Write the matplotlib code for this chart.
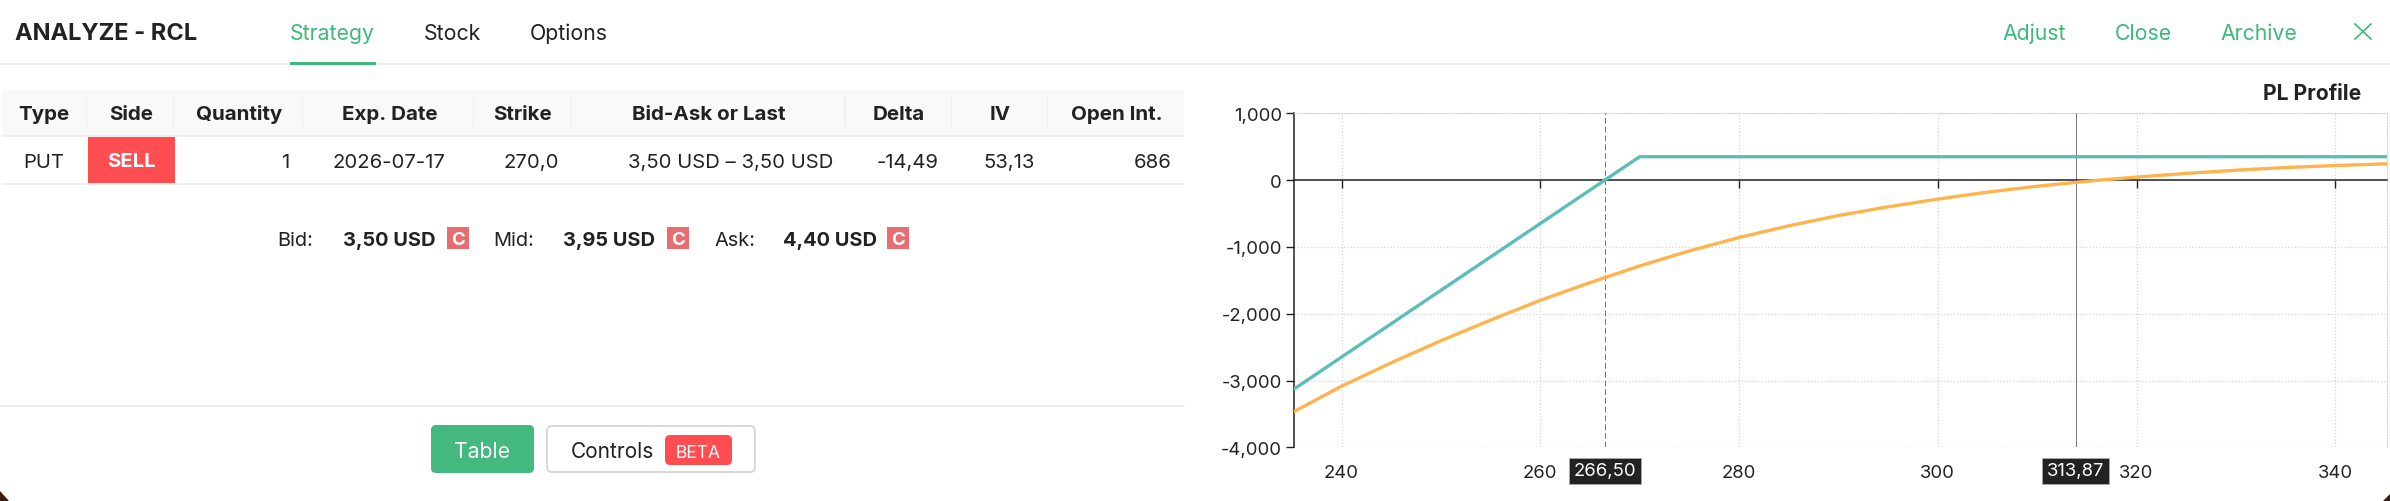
import matplotlib
matplotlib.use("Agg")
import matplotlib.pyplot as plt
from matplotlib.patches import Rectangle, FancyBboxPatch, Polygon

plt.rcParams['font.family'] = ['Inter', 'DejaVu Sans']

W, H = 2390, 502
GREEN = '#3fb87b'
RED = '#ff4d52'
DARK = '#222222'
LINE = '#eeeeee'

# chart data
teal_x = [235.2, 270, 345.2]
teal_y = [-3130, 350, 350]
orange_x = [235.2, 240, 245, 250, 255, 260, 265, 270, 275, 280, 285, 290, 295, 300,
            305, 310, 313.87, 316.3, 320, 325, 330, 335, 340, 345.2]
orange_y = [-3468, -3085, -2735, -2405, -2095, -1800, -1535, -1285, -1060, -860, -685, -530, -400, -284,
            -180, -92, -35, 0, 45, 100, 148, 188, 218, 244]
x_ticks = [240, 260, 280, 300, 320, 340]
y_ticks = [1000, 0, -1000, -2000, -3000, -4000]
y_labels = ['1,000', '0', '-1,000', '-2,000', '-3,000', '-4,000']
breakeven = 266.50
current_price = 313.87

# table data
headers = ['Type', 'Side', 'Quantity', 'Exp. Date', 'Strike', 'Bid-Ask or Last', 'Delta', 'IV', 'Open Int.']
header_x = [44, 131, 239, 389.5, 523, 708.5, 899, 1000, 1116.5]
sep_x = [86.6, 174, 303, 473.7, 571.8, 845.5, 952, 1047.6]
row = ['PUT', '1', '2026-07-17', '270,0', '3,50 USD – 3,50 USD', '-14,49', '53,13', '686']
row_x = [44, 290.5, 389, 559, 731, 939, 1035, 1172]
row_ha = ['center', 'right', 'center', 'right', 'center', 'right', 'right', 'right']
quotes = [('Bid:', '3,50 USD'), ('Mid:', '3,95 USD'), ('Ask:', '4,40 USD')]
quote_label_x = [277.5, 493.5, 714]
quote_value_x = [343, 562.7, 783]
quote_badge_x = [447, 667, 887]

fig = plt.figure(figsize=(W / 100, H / 100), dpi=100, facecolor='white')

# everything that is not the chart goes on a pixel sized axes
ui = fig.add_axes([0, 0, 1, 1])
ui.set_xlim(0, W)
ui.set_ylim(H, 0)
ui.axis('off')


def label(x, y, s, size=15.3, color=DARK, ha='left', weight='normal'):
    ui.text(x, y, s, fontsize=size, color=color, ha=ha, va='baseline', fontweight=weight)


def rounded(x0, y0, x1, y1, face, edge='none', r=5, lw=0):
    ui.add_patch(FancyBboxPatch((x0 + r, y0 + r), x1 - x0 - 2 * r, y1 - y0 - 2 * r,
                                boxstyle='round,pad=%d,rounding_size=%d' % (r, r),
                                fc=face, ec=edge, lw=lw))


# top bar
label(15, 40, 'ANALYZE - RCL', size=17, weight='bold')
label(290, 40, 'Strategy', color=GREEN)
label(424, 40, 'Stock')
label(529.5, 40, 'Options')
label(2002.5, 40, 'Adjust', color=GREEN)
label(2114.5, 40, 'Close', color=GREEN)
label(2220.5, 40, 'Archive', color=GREEN)
ui.plot([2355, 2371], [25, 40], color=GREEN, lw=1.2)
ui.plot([2355, 2371], [40, 25], color=GREEN, lw=1.2)
ui.add_patch(Rectangle((0, 64), W, 2, fc=LINE, ec='none'))
ui.add_patch(Rectangle((290, 63), 86, 3, fc=GREEN, ec='none'))

# table
ui.add_patch(Rectangle((2, 90), 1182.5, 46, fc='#f9f9f9', ec='none'))
ui.add_patch(Rectangle((2, 136), 1182.5, 2, fc=LINE, ec='none'))
ui.add_patch(Rectangle((2, 184), 1182.5, 2, fc=LINE, ec='none'))
for x in sep_x:
    ui.add_patch(Rectangle((x - 1, 97), 1.5, 31, fc=LINE, ec='none'))
for x, h in zip(header_x, headers):
    label(x, 120, h, ha='center', weight='bold', size=14.8)
for x, s, ha in zip(row_x, row, row_ha):
    label(x, 168, s, ha=ha, size=14.6)
ui.add_patch(Rectangle((88, 138), 87, 46, fc=RED, ec='none'))
label(131, 167.5, 'SELL', color='white', ha='center', weight='bold', size=14.6)

# bid / mid / ask line
for (name, value), lx, vx, bx in zip(quotes, quote_label_x, quote_value_x, quote_badge_x):
    label(lx, 246, name, size=14.4)
    label(vx, 246, value, size=14.4, weight='bold')
    ui.add_patch(Rectangle((bx, 228), 22.5, 22, fc='#e76d73', ec='none'))
    label(bx + 11.2, 245.5, 'C', color='white', ha='center', weight='bold', size=13.5)

# buttons under the table
ui.add_patch(Rectangle((0, 406), 1185, 1.5, fc=LINE, ec='none'))
rounded(431, 426, 534, 474, '#43b97f')
label(482.5, 458, 'Table', color='white', ha='center')
rounded(547, 427, 755, 473, 'white', edge='#d9d9d9', lw=1.5)
label(570.5, 458, 'Controls', size=15)
rounded(665, 436, 732, 466, RED)
label(698.5, 458, 'BETA', color='white', ha='center', size=12.5)

# window corners showing through
ui.add_patch(Polygon([(0, 492), (9, 502), (0, 502)], fc='#3b1d12', ec='none'))
ui.add_patch(Polygon([(2390, 495), (2383, 502), (2390, 502)], fc='#3b1d12', ec='none'))

label(2361, 100, 'PL Profile', ha='right', weight='bold', size=15.2)

# PL chart
x0, x1, y0, y1 = 1293.8, 2387, 114.3, 448.3
ax = fig.add_axes([x0 / W, 1 - y1 / H, (x1 - x0) / W, (y1 - y0) / H])
ax.patch.set_alpha(0)
ax.set_xlim(235.2, 345.2)
ax.set_ylim(-4000, 1000)

ax.set_xticks(x_ticks)
ax.set_yticks(y_ticks)
ax.set_yticklabels(y_labels)
ax.grid(True, color='#d4d4d4', linestyle=':', linewidth=0.9)
ax.set_axisbelow(True)
for name in ['top', 'right']:
    ax.spines[name].set_visible(True)
    ax.spines[name].set_color('#d4d4d4')
    ax.spines[name].set_linestyle(':')
ax.spines['left'].set_color(DARK)
ax.spines['left'].set_linewidth(1.1)
ax.spines['bottom'].set_position(('data', 0))
ax.spines['bottom'].set_color(DARK)
ax.spines['bottom'].set_linewidth(1.1)
ax.axhline(-4000, color='#d4d4d4', linestyle=':', linewidth=0.9, zorder=1)
ax.tick_params(axis='y', direction='out', length=5.5, width=1, color=DARK,
               labelsize=13.3, labelcolor=DARK, pad=3)
ax.tick_params(axis='x', direction='out', length=5.5, width=1, color=DARK,
               labelsize=13.3, labelcolor=DARK, pad=199)

ax.axvline(breakeven, color='#777777', linestyle=(0, (6, 3)), linewidth=0.7, zorder=2)
ax.axvline(current_price, color='#777777', linewidth=0.7, zorder=2)

ax.plot(teal_x, teal_y, color='#5bbfb5', linewidth=2.4, zorder=3, solid_joinstyle='round')
ax.plot(orange_x, orange_y, color='#ffb34d', linewidth=2.4, zorder=4, solid_joinstyle='round')

# price badges under the axis
for price in [breakeven, current_price]:
    ax.annotate(('%.2f' % price).replace('.', ','), xy=(price, 0), xycoords=('data', 'axes fraction'),
                xytext=(0, -15), textcoords='offset pixels', ha='center', va='top', fontsize=13.3,
                color='white', zorder=6, annotation_clip=False,
                bbox=dict(boxstyle='square,pad=0.25', fc=DARK, ec='#aaaaaa', lw=0.6))

fig.savefig('out.png', dpi=100)
